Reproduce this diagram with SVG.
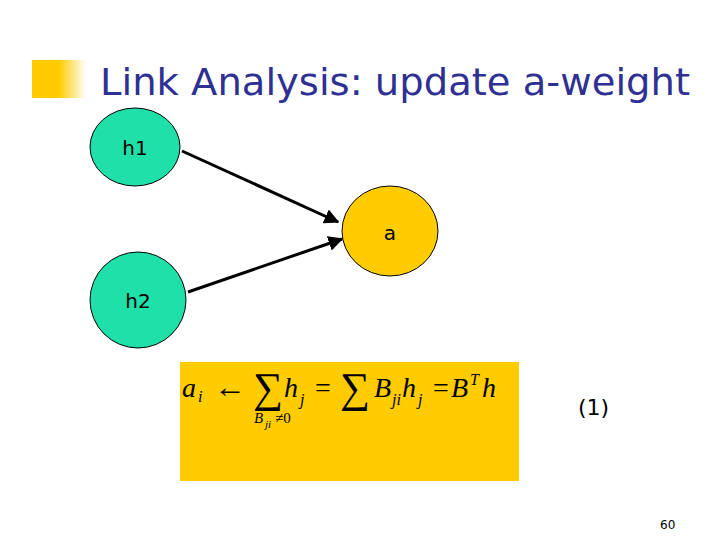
<svg xmlns="http://www.w3.org/2000/svg" width="720" height="540" viewBox="0 0 720 540">
<defs>
<linearGradient id="fade" x1="0" y1="0" x2="1" y2="0">
<stop offset="0" stop-color="#FFCC00"/>
<stop offset="0.5" stop-color="#FFCC00"/>
<stop offset="1" stop-color="#FFCC00" stop-opacity="0"/>
</linearGradient>
<marker id="ah" viewBox="0 0 10 10" refX="9" refY="5" markerWidth="5" markerHeight="5" orient="auto" markerUnits="strokeWidth">
<path d="M0,0 L10,5 L0,10 z" fill="#000"/>
</marker>
<style>
.hub{fill:#1EE0A8;stroke:#000;stroke-width:1}
.auth{fill:#FFCC00;stroke:#000;stroke-width:1}
.lbl{font-family:"DejaVu Sans",Verdana,sans-serif;font-size:20px;fill:#000}
.edge{stroke:#000;stroke-width:3;fill:none;marker-end:url(#ah)}
.m{font-family:"Liberation Serif","Times New Roman",serif;font-style:italic;fill:#000}
.mr{font-family:"Liberation Serif","Times New Roman",serif;fill:#000}
</style>
</defs>
<rect width="720" height="540" fill="#fff"/>
<rect x="32" y="60" width="54" height="38" fill="url(#fade)"/>
<text x="100" y="95" font-family="DejaVu Sans,Verdana,sans-serif" font-size="38" fill="#2E3192" textLength="590" lengthAdjust="spacingAndGlyphs">Link Analysis: update a-weight</text>
<g id="edges">
<line class="edge" x1="182" y1="151" x2="338" y2="222"/>
<line class="edge" x1="188" y1="292" x2="342" y2="239"/>
</g>
<g id="h1">
<ellipse class="hub" cx="135" cy="147" rx="45" ry="39"/>
<text class="lbl" x="135" y="155" text-anchor="middle">h1</text>
</g>
<g id="a">
<ellipse class="auth" cx="390" cy="231" rx="48" ry="45"/>
<text class="lbl" x="390" y="240" text-anchor="middle">a</text>
</g>
<g id="h2">
<ellipse class="hub" cx="138" cy="300" rx="48" ry="48"/>
<text class="lbl" x="138" y="308" text-anchor="middle">h2</text>
</g>
<g id="formula">
<rect x="180" y="362" width="339" height="119" fill="#FFCC00"/>
<text class="m" x="182" y="397" font-size="28">a</text>
<text class="m" x="198" y="402" font-size="16">i</text>
<text class="mr" x="214" y="397" font-size="30" textLength="32" lengthAdjust="spacingAndGlyphs">←</text>
<text class="mr" x="253" y="402" font-size="42">∑</text>
<text class="m" x="284" y="397" font-size="28">h</text>
<text class="m" x="300" y="405" font-size="16">j</text>
<text class="mr" x="315" y="397" font-size="28">=</text>
<text class="mr" x="340" y="402" font-size="42">∑</text>
<text class="m" x="374" y="397" font-size="28">B</text>
<text class="m" x="392" y="405" font-size="16">ji</text>
<text class="m" x="402" y="397" font-size="28">h</text>
<text class="m" x="418" y="405" font-size="16">j</text>
<text class="mr" x="433" y="397" font-size="28">=</text>
<text class="m" x="451" y="397" font-size="28">B</text>
<text class="m" x="470" y="385" font-size="16">T</text>
<text class="m" x="482" y="397" font-size="28">h</text>
<text class="m" x="254" y="423" font-size="15">B</text>
<text class="m" x="265" y="428" font-size="11">ji</text>
<text class="mr" x="275" y="423" font-size="15">≠0</text>
</g>
<text x="578" y="415" font-family="DejaVu Sans,Verdana,sans-serif" font-size="22" fill="#000">(1)</text>
<text x="660" y="529" font-family="DejaVu Sans,Verdana,sans-serif" font-size="12" fill="#000">60</text>
</svg>
